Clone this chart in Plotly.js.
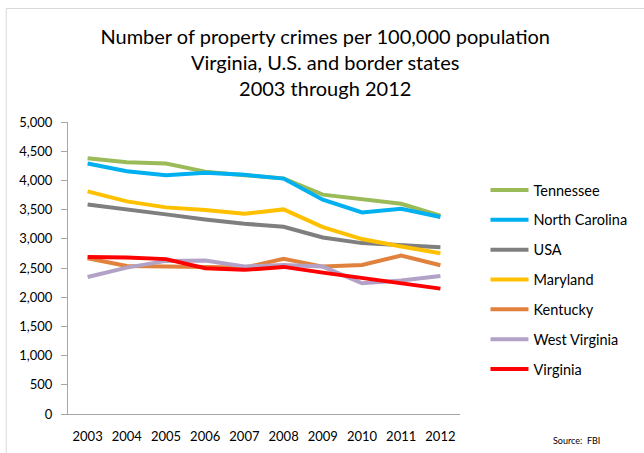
<!DOCTYPE html>
<html>
<head>
<meta charset="utf-8">
<script src="https://cdn.plot.ly/plotly-3.0.1.min.js"></script>
<style>
html,body{margin:0;padding:0;background:#fff;}
#chart{width:644px;height:453px;}
</style>
</head>
<body>
<div id="chart"></div>
<script>
const years = ['2003','2004','2005','2006','2007','2008','2009','2010','2011','2012'];
const tennessee     = [4380, 4310, 4290, 4150, 4090, 4035, 3756, 3670, 3600, 3395];
const northCarolina = [4290, 4156, 4088, 4129, 4095, 4031, 3670, 3452, 3515, 3373];
const usa           = [3589, 3510, 3418, 3332, 3258, 3206, 3022, 2926, 2897, 2857];
const maryland      = [3813, 3641, 3538, 3493, 3430, 3503, 3201, 2995, 2868, 2754];
const kentucky      = [2668, 2536, 2524, 2524, 2507, 2657, 2524, 2553, 2713, 2547];
const westVirginia  = [2347, 2507, 2622, 2627, 2524, 2553, 2524, 2238, 2284, 2364];
const virginia      = [2690, 2680, 2652, 2497, 2468, 2519, 2421, 2324, 2238, 2147];
const yTicks = [0,500,1000,1500,2000,2500,3000,3500,4000,4500,5000];
const yTickText = ['0','500','1,000','1,500','2,000','2,500','3,000','3,500','4,000','4,500','5,000'];

const seriesNames = ['Tennessee','North Carolina','USA','Maryland','Kentucky','West Virginia','Virginia'];
const seriesData = [tennessee, northCarolina, usa, maryland, kentucky, westVirginia, virginia];
const seriesColors = ['#9BBB59','#00B0F0','#7F7F7F','#FFC000','#E0823D','#B3A2C7','#FF0000'];

const FONT = 'Lato, "Open Sans", sans-serif';

const traces = seriesNames.map((n, i) => ({
  type: 'scatter',
  mode: 'lines',
  name: n,
  x: years,
  y: seriesData[i],
  legendgroup: 'g' + i,
  line: {color: seriesColors[i], width: 4, shape: 'linear'},
  hoverinfo: 'x+y+name'
}));

const layout = {
  width: 644,
  height: 453,
  paper_bgcolor: '#ffffff',
  plot_bgcolor: '#ffffff',
  margin: {l: 68, r: 176, t: 122, b: 39, pad: 0},
  font: {family: FONT, size: 13, color: '#000'},
  title: {
    text: 'Number of property crimes per 100,000 population<br>Virginia, U.S. and border states<br>2003 through 2012',
    font: {family: FONT, size: 20, color: '#000'},
    x: 0.505, xref: 'container', xanchor: 'center',
    y: 1 - 44/453, yref: 'container', yanchor: 'top'
  },
  xaxis: {
    type: 'category',
    range: [-0.5, 9.5],
    showgrid: false,
    zeroline: false,
    showline: true,
    linecolor: '#A6A6A6',
    linewidth: 1,
    ticks: '',
    ticklabelstandoff: 10,
    tickfont: {family: FONT, size: 13, color: '#000'},
    fixedrange: true
  },
  yaxis: {
    range: [0, 5000],
    tickvals: yTicks,
    ticktext: yTickText,
    showgrid: false,
    zeroline: false,
    showline: true,
    linecolor: '#A6A6A6',
    linewidth: 1,
    ticks: 'outside',
    ticklen: 6,
    tickcolor: '#A6A6A6',
    ticklabelstandoff: 6,
    tickfont: {family: FONT, size: 13, color: '#000'},
    fixedrange: true
  },
  showlegend: true,
  legend: {
    x: (494 - 68) / 400, xanchor: 'left',
    y: (414 - 174) / 292, yanchor: 'top',
    traceorder: 'grouped',
    tracegroupgap: 8,
    itemwidth: 38,
    font: {family: FONT, size: 14.5, color: '#000'},
    bgcolor: 'rgba(0,0,0,0)'
  },
  shapes: [{
    type: 'rect', xref: 'paper', yref: 'paper',
    x0: (5 - 68) / 400, x1: (660 - 68) / 400,
    y0: (414 - 470) / 292, y1: (414 - 8.5) / 292,
    line: {color: '#D9D9D9', width: 1},
    fillcolor: 'rgba(0,0,0,0)', layer: 'below'
  }],
  annotations: [{
    text: 'Source:  FBI', xref: 'paper', yref: 'paper',
    x: (613 - 68) / 400, xanchor: 'right',
    y: (414 - 440) / 292, yanchor: 'middle',
    showarrow: false,
    font: {family: FONT, size: 9, color: '#000'}
  }]
};

Plotly.newPlot('chart', traces, layout, {displayModeBar: false, staticPlot: true});
</script>
</body>
</html>
